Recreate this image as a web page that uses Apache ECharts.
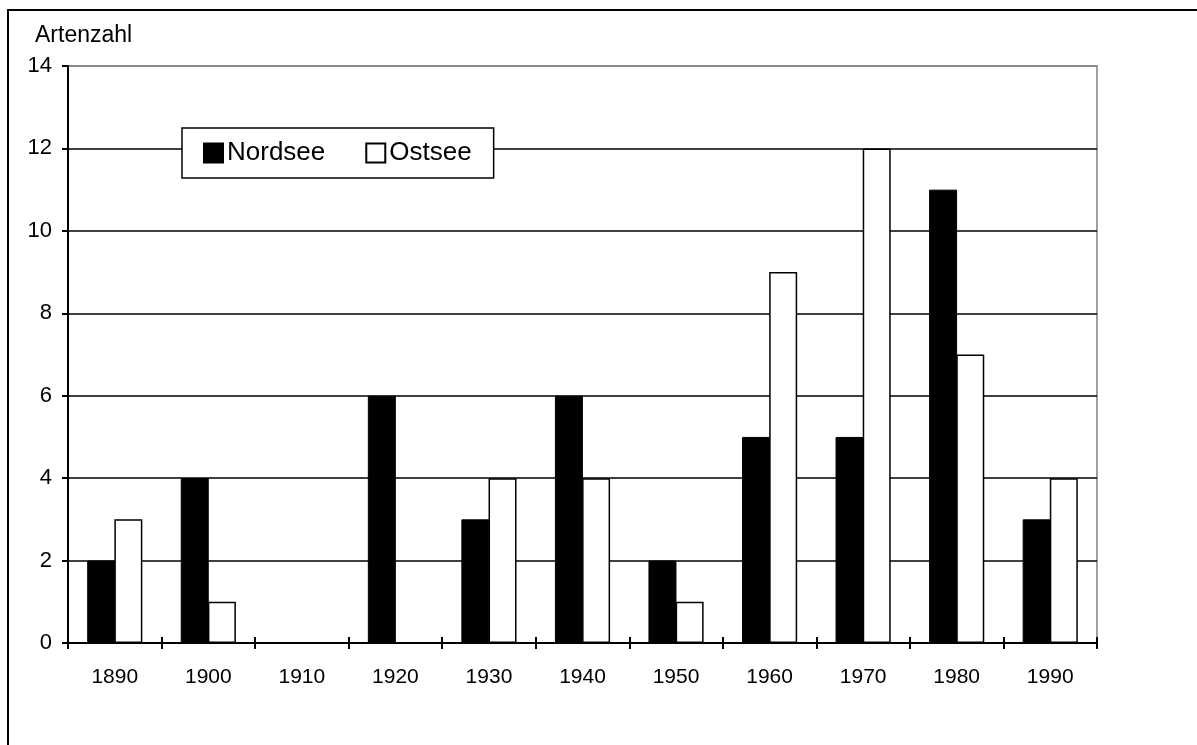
<!DOCTYPE html>
<html>
<head>
<meta charset="utf-8">
<script src="https://cdn.jsdelivr.net/npm/echarts@6/dist/echarts.min.js"></script>
<style>
	html, body { margin: 0; padding: 0; background: #fff; }
	#chart { width: 1197px; height: 745px; }
</style>
</head>
<body>
<div id="chart"></div>
<script>
const decades = ['1890', '1900', '1910', '1920', '1930', '1940', '1950', '1960', '1970', '1980', '1990'];
const nordsee = [2, 4, 0, 6, 3, 6, 2, 5, 5, 11, 3];
const ostsee = [3, 1, 0, 0, 4, 4, 1, 9, 12, 7, 4];
const seriesNames = ['Nordsee', 'Ostsee'];

const font = 'Liberation Sans, Arial, sans-serif';
let chart = echarts.init(document.getElementById('chart'));

chart.setOption({
	animation: false,
	backgroundColor: '#fff',
	textStyle: { fontFamily: font, color: '#000' },
	title: {
		text: 'Artenzahl',
		left: 30,
		top: 19,
		textStyle: { fontFamily: font, fontSize: 23, fontWeight: 'normal', color: '#000' }
	},
	graphic: [{
		type: 'rect',
		shape: { x: 8, y: 10, width: 1300, height: 800 },
		style: { fill: 'none', stroke: '#000', lineWidth: 2 },
		silent: true
	}],
	legend: {
		data: seriesNames,
		left: 182,
		top: 128,
		padding: [12, 22, 12, 21],
		itemGap: 40,
		itemWidth: 19,
		itemHeight: 19,
		icon: 'rect',
		backgroundColor: '#fff',
		borderColor: '#000',
		borderWidth: 1.5,
		z: 10,
		textStyle: { fontFamily: font, fontSize: 26, color: '#000', padding: [0, 0, 0, -1] }
	},
	grid: {
		left: 68,
		right: 100,
		top: 66,
		bottom: 102,
		show: true,
		borderColor: '#808080',
		borderWidth: 1.5
	},
	xAxis: [{
		type: 'category',
		data: decades,
		position: 'bottom',
		axisLine: { lineStyle: { color: '#000', width: 2 } },
		axisTick: { show: true, length: 6, lineStyle: { color: '#000', width: 2 } },
		axisLabel: { color: '#000', fontSize: 21, margin: 24, fontFamily: font },
		splitLine: { show: false }
	}, {
		type: 'category',
		data: decades,
		position: 'bottom',
		axisLine: { show: false },
		axisTick: { show: true, inside: true, length: 6, lineStyle: { color: '#000', width: 2 } },
		axisLabel: { show: false },
		splitLine: { show: false }
	}],
	yAxis: {
		type: 'value',
		min: 0,
		max: 14,
		interval: 2,
		axisLine: { show: true, lineStyle: { color: '#000', width: 2 } },
		axisTick: { show: true, length: 6, lineStyle: { color: '#000', width: 2 } },
		axisLabel: { color: '#000', fontSize: 22, margin: 16, fontFamily: font },
		splitLine: {
			show: true,
			lineStyle: { color: ['#000', '#000', '#000', '#000', '#000', '#000', '#000', '#808080'], width: 1.5 }
		}
	},
	series: [{
		name: seriesNames[0],
		type: 'bar',
		data: nordsee,
		barWidth: 28,
		barGap: '-3%',
		itemStyle: { color: '#000', borderColor: '#000', borderWidth: 1 }
	}, {
		name: seriesNames[1],
		type: 'bar',
		data: ostsee,
		barWidth: 28,
		itemStyle: { color: '#fff', borderColor: '#000', borderWidth: 1.5 }
	}]
});
</script>
</body>
</html>
